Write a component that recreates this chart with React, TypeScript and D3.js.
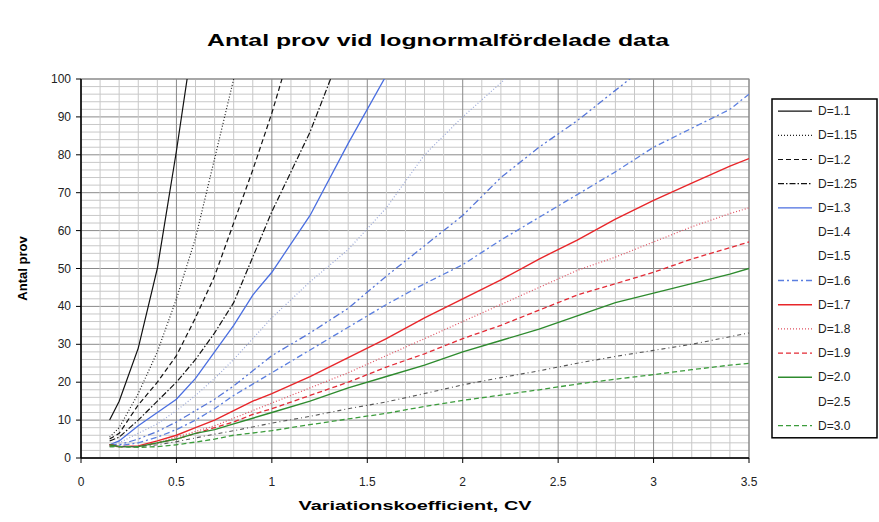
import React from 'react';
import * as d3 from 'd3';

// CV values where the curves are sampled
const cvValues = [0.15, 0.2, 0.3, 0.4, 0.5, 0.6, 0.7, 0.8, 0.9, 1.0, 1.2, 1.4, 1.6, 1.8, 2.0, 2.2, 2.4, 2.6, 2.8, 3.0, 3.2, 3.4, 3.5];

// Antal prov per D (null = outside chart)
const d110 = [10, 15, 29, 50, 81, 115, null, null, null, null, null, null, null, null, null, null, null, null, null, null, null, null, null];
const d115 = [5.5, 8, 17, 28, 42, 58, 79, 100, 122, null, null, null, null, null, null, null, null, null, null, null, null, null, null];
const d120 = [5, 6.5, 14, 20, 27, 37, 48, 62, 76, 91, 125, null, null, null, null, null, null, null, null, null, null, null, null];
const d125 = [4.5, 5.5, 10, 15, 20, 26, 33, 41, 53, 65, 86, 112, null, null, null, null, null, null, null, null, null, null, null];
const d130 = [3.5, 4.5, 8.5, 12, 15.5, 21, 28, 35, 43, 49, 64, 83, 101, null, null, null, null, null, null, null, null, null, null];
const d140 = [3.5, 4, 6.5, 9, 12.5, 16.5, 21, 26, 31.5, 37, 46.5, 55, 66, 80, 90, 99, 108, null, null, null, null, null, null];
const d150 = [3.5, 3.5, 5, 7, 9.5, 12.5, 15.5, 19, 23, 27, 33, 39.5, 48, 56, 64, 74, 82, 89, 97, 105, null, null, null];
const d160 = [3.5, 3.2, 4, 5.5, 7.5, 10, 13, 16.5, 19.5, 22.5, 28.5, 34.5, 40.5, 46, 51, 57.5, 63.5, 69.5, 75.5, 82, 87, 92, 96];
const d170 = [3.5, 3, 3.2, 4.5, 6, 8, 10, 12.5, 15, 17, 21.5, 26.5, 31.5, 37, 42, 47, 52.5, 57.5, 63, 68, 72.5, 77, 79];
const d180 = [3.5, 3, 3, 4, 5.5, 7, 8.5, 10.5, 12.5, 14.5, 18.5, 22.5, 27, 31.5, 36, 40.5, 45, 49.5, 53, 57, 61, 64.5, 66];
const d190 = [3.5, 3, 3, 4, 5, 6.5, 8, 9.5, 11.5, 13, 16.5, 20, 24, 27.5, 31.5, 35, 39, 43, 46, 49, 52.5, 55.5, 57];
const d200 = [3.5, 3, 3, 4, 5, 6.5, 7.5, 9, 10.5, 12, 15, 18.5, 21.5, 24.5, 28, 31, 34, 37.5, 41, 43.5, 46, 48.5, 50];
const d250 = [3, 3, 3, 3.5, 4.3, 5.3, 6.3, 7.2, 8.2, 9.2, 11, 13, 14.8, 17, 19.3, 21.2, 23, 25, 26.8, 28.4, 30, 32, 33];
const d300 = [3, 3, 2.8, 3, 3.5, 4.2, 5, 6, 6.6, 7.2, 8.8, 10.3, 11.8, 13.6, 15.2, 16.6, 18, 19.5, 20.8, 22, 23.3, 24.5, 25];

const seriesNames = ['D=1.1', 'D=1.15', 'D=1.2', 'D=1.25', 'D=1.3', 'D=1.4', 'D=1.5', 'D=1.6', 'D=1.7', 'D=1.8', 'D=1.9', 'D=2.0', 'D=2.5', 'D=3.0'];
const seriesValues = [d110, d115, d120, d125, d130, d140, d150, d160, d170, d180, d190, d200, d250, d300];

const xTicks = [0, 0.5, 1, 1.5, 2, 2.5, 3, 3.5];
const yTicks = [0, 10, 20, 30, 40, 50, 60, 70, 80, 90, 100];

// line look per series; legend false = no sample shown in legend
const styles = [
    { color: '#111', dash: null, width: 1.2, legend: true },
    { color: '#222', dash: '1,2', width: 1.2, legend: true },
    { color: '#111', dash: '5,3', width: 1.2, legend: true },
    { color: '#111', dash: '6,2,1.5,2', width: 1.2, legend: true },
    { color: '#4a6ee0', dash: null, width: 1.3, legend: true },
    { color: '#9aa8d8', dash: '1,2', width: 1.2, legend: false },
    { color: '#5575d8', dash: '7,3,2,3,2,3', width: 1.3, legend: false },
    { color: '#5b7fe0', dash: '6,3,2,3', width: 1.3, legend: true },
    { color: '#e8262a', dash: null, width: 1.4, legend: true },
    { color: '#e05060', dash: '1,2', width: 1.2, legend: true },
    { color: '#e32a35', dash: '5,3', width: 1.3, legend: true },
    { color: '#2e8b2e', dash: null, width: 1.4, legend: true },
    { color: '#555', dash: '4,3,1,3', width: 1.1, legend: false },
    { color: '#3c9c3c', dash: '5,3', width: 1.3, legend: true }
];

const W = 879;
const H = 522;
const plot = { left: 81, right: 749, top: 79, bottom: 458 };
const font = '"Liberation Sans", Arial, sans-serif';

export default function App() {
    const x = d3.scaleLinear().domain([0, 3.5]).range([plot.left, plot.right]);
    const y = d3.scaleLinear().domain([0, 100]).range([plot.bottom, plot.top]);

    const minorX = d3.range(0, 3.5001, 0.1).map(v => +v.toFixed(2));
    const minorY = d3.range(0, 100.001, 2);

    const line = d3.line<any>()
        .defined(d => d.n != null)
        .x(d => x(d.cv))
        .y(d => y(d.n));

    const legendX = 772;
    const legendTop = 99;
    const rowH = 24.2;

    return (
        <svg width={W} height={H} style={{ position: 'absolute', left: 0, top: 0, background: '#fff' }} fontFamily={font}>
            <defs>
                <clipPath id="plotClip">
                    <rect x={plot.left} y={plot.top} width={plot.right - plot.left} height={plot.bottom - plot.top} />
                </clipPath>
            </defs>

            <text x={438} y={46} textAnchor="middle" fontSize={17} fontWeight="bold" textLength={462} lengthAdjust="spacingAndGlyphs">
                Antal prov vid lognormalfördelade data
            </text>

            {/* grid */}
            {minorY.map(v => (
                <line key={'hy' + v} x1={plot.left} x2={plot.right} y1={y(v)} y2={y(v)}
                    stroke={v % 10 === 0 ? '#8a8a8a' : '#c8c8c8'} strokeWidth={1} />
            ))}
            {minorX.map(v => (
                <line key={'vx' + v} x1={x(v)} x2={x(v)} y1={plot.top} y2={plot.bottom}
                    stroke={Math.abs(v * 2 - Math.round(v * 2)) < 1e-6 ? '#8a8a8a' : '#c8c8c8'} strokeWidth={1} />
            ))}
            <rect x={plot.left} y={plot.top} width={plot.right - plot.left} height={plot.bottom - plot.top}
                fill="none" stroke="#8a8a8a" />

            {/* series */}
            <g clipPath="url(#plotClip)">
                {seriesValues.map((vals, i) => {
                    const pts = cvValues.map((cv, j) => ({ cv, n: vals[j] }));
                    const s = styles[i];
                    return (
                        <path key={seriesNames[i]} d={line(pts) || ''} fill="none" stroke={s.color}
                            strokeWidth={s.width} strokeDasharray={s.dash || undefined} />
                    );
                })}
            </g>

            {/* axes */}
            <line x1={plot.left} x2={plot.left} y1={plot.top} y2={plot.bottom} stroke="#000" strokeWidth={1.5} />
            <line x1={plot.left} x2={plot.right} y1={plot.bottom} y2={plot.bottom} stroke="#000" strokeWidth={1.5} />
            {yTicks.map(v => (
                <g key={'yt' + v}>
                    <line x1={plot.left - 5} x2={plot.left} y1={y(v)} y2={y(v)} stroke="#000" />
                    <text x={plot.left - 10} y={y(v) + 4} textAnchor="end" fontSize={12} fill="#222">{v}</text>
                </g>
            ))}
            {xTicks.map(v => (
                <g key={'xt' + v}>
                    <line x1={x(v)} x2={x(v)} y1={plot.bottom} y2={plot.bottom + 5} stroke="#000" />
                    <text x={x(v)} y={486} textAnchor="middle" fontSize={12} fill="#222">{v}</text>
                </g>
            ))}

            <text x={415} y={510} textAnchor="middle" fontSize={13} fontWeight="bold" textLength={233} lengthAdjust="spacingAndGlyphs">
                Variationskoefficient, CV
            </text>
            <text transform={`translate(27,${(plot.top + plot.bottom) / 2}) rotate(-90)`} textAnchor="middle" fontSize={13} fontWeight="bold">
                Antal prov
            </text>

            {/* legend */}
            <rect x={legendX} y={legendTop} width={105} height={rowH * seriesNames.length} fill="#fff" stroke="#000" strokeWidth={1.5} />
            {seriesNames.map((name, i) => {
                const cy = legendTop + rowH / 2 + i * rowH;
                const s = styles[i];
                return (
                    <g key={'lg' + name}>
                        {s.legend && (
                            <line x1={legendX + 6} x2={legendX + 40} y1={cy} y2={cy} stroke={s.color}
                                strokeWidth={s.width} strokeDasharray={s.dash || undefined} />
                        )}
                        <text x={legendX + 46} y={cy + 4} fontSize={12} fill="#222">{name}</text>
                    </g>
                );
            })}
        </svg>
    );
}
